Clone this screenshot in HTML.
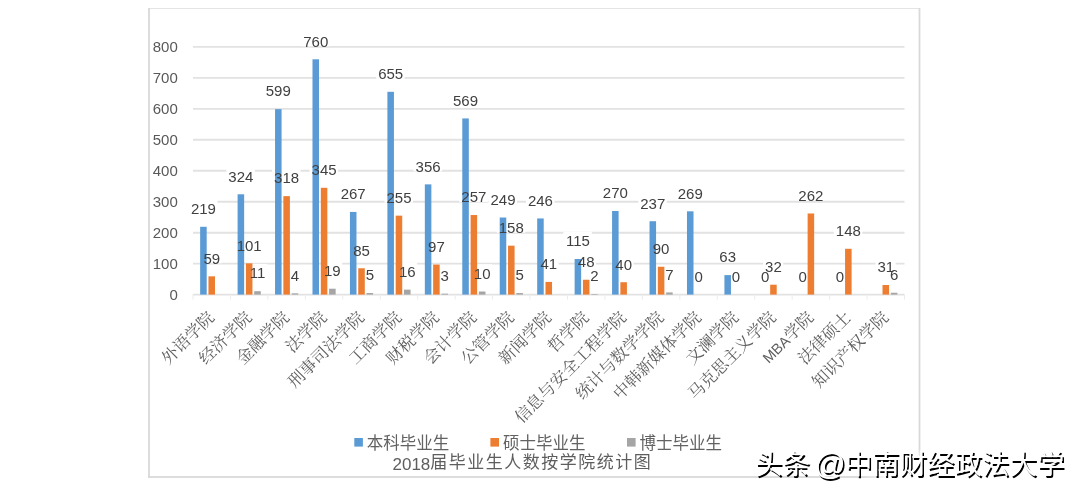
<!DOCTYPE html><html><head><meta charset="utf-8"><style>
html,body{margin:0;padding:0;background:#fff;}
body{width:1080px;height:495px;overflow:hidden;position:relative;}
svg{position:absolute;left:0;top:0;filter:blur(0.4px);}
.yl{font:15px "Liberation Sans",sans-serif;fill:#595959;}
.dl{font:15px "Liberation Sans",sans-serif;fill:#404040;}
.xl{font:400 16.6px "Liberation Sans","Noto Serif CJK SC",serif;fill:#5f5f5f;}
.lg{font:400 16.5px "Liberation Sans","Noto Sans CJK SC",sans-serif;fill:#626262;}
.tt{font:400 17px "Liberation Sans","Noto Sans CJK SC",sans-serif;fill:#5e5e5e;}
.wm{position:absolute;left:755px;top:441.9px;font:27.5px "Liberation Sans","Noto Sans CJK SC",sans-serif;color:#fff;white-space:nowrap;text-shadow:1.5px 1.5px 0.6px #000;filter:blur(0.25px);}
.at{font-family:"Liberation Sans",sans-serif;font-size:31px;vertical-align:-1px;margin-left:-3.5px;margin-right:-1px;}
</style></head><body>
<svg width="1080" height="495" viewBox="0 0 1080 495">
<defs><linearGradient id="gb" x1="148" y1="0" x2="890" y2="0" gradientUnits="userSpaceOnUse"><stop offset="0.965" stop-color="#d9d9d9"/><stop offset="1" stop-color="#d9d9d9" stop-opacity="0"/></linearGradient><linearGradient id="gr" x1="0" y1="8" x2="0" y2="462" gradientUnits="userSpaceOnUse"><stop offset="0.97" stop-color="#d9d9d9"/><stop offset="1" stop-color="#d9d9d9" stop-opacity="0"/></linearGradient></defs>
<line x1="148" y1="8.5" x2="920" y2="8.5" stroke="#e4e4e4" stroke-width="1.2"/>
<line x1="149" y1="8" x2="149" y2="478" stroke="#d9d9d9" stroke-width="1.8"/>
<rect x="918.6" y="8" width="1.8" height="454" fill="url(#gr)"/>
<rect x="148" y="476.1" width="742" height="1.8" fill="url(#gb)"/>
<line x1="193.0" y1="263.64" x2="904.5" y2="263.64" stroke="#e2e2e2" stroke-width="1.9"/>
<line x1="193.0" y1="232.68" x2="904.5" y2="232.68" stroke="#e2e2e2" stroke-width="1.9"/>
<line x1="193.0" y1="201.72" x2="904.5" y2="201.72" stroke="#e2e2e2" stroke-width="1.9"/>
<line x1="193.0" y1="170.76" x2="904.5" y2="170.76" stroke="#e2e2e2" stroke-width="1.9"/>
<line x1="193.0" y1="139.80" x2="904.5" y2="139.80" stroke="#e2e2e2" stroke-width="1.9"/>
<line x1="193.0" y1="108.84" x2="904.5" y2="108.84" stroke="#e2e2e2" stroke-width="1.9"/>
<line x1="193.0" y1="77.88" x2="904.5" y2="77.88" stroke="#e2e2e2" stroke-width="1.9"/>
<line x1="193.0" y1="46.92" x2="904.5" y2="46.92" stroke="#e2e2e2" stroke-width="1.9"/>
<line x1="193.0" y1="294.60" x2="904.5" y2="294.60" stroke="#e2e2e2" stroke-width="1.9"/>
<line x1="193.00" y1="294.60" x2="193.00" y2="299.60" stroke="#ebebeb" stroke-width="1"/>
<line x1="230.45" y1="294.60" x2="230.45" y2="299.60" stroke="#ebebeb" stroke-width="1"/>
<line x1="267.89" y1="294.60" x2="267.89" y2="299.60" stroke="#ebebeb" stroke-width="1"/>
<line x1="305.34" y1="294.60" x2="305.34" y2="299.60" stroke="#ebebeb" stroke-width="1"/>
<line x1="342.79" y1="294.60" x2="342.79" y2="299.60" stroke="#ebebeb" stroke-width="1"/>
<line x1="380.24" y1="294.60" x2="380.24" y2="299.60" stroke="#ebebeb" stroke-width="1"/>
<line x1="417.68" y1="294.60" x2="417.68" y2="299.60" stroke="#ebebeb" stroke-width="1"/>
<line x1="455.13" y1="294.60" x2="455.13" y2="299.60" stroke="#ebebeb" stroke-width="1"/>
<line x1="492.58" y1="294.60" x2="492.58" y2="299.60" stroke="#ebebeb" stroke-width="1"/>
<line x1="530.03" y1="294.60" x2="530.03" y2="299.60" stroke="#ebebeb" stroke-width="1"/>
<line x1="567.47" y1="294.60" x2="567.47" y2="299.60" stroke="#ebebeb" stroke-width="1"/>
<line x1="604.92" y1="294.60" x2="604.92" y2="299.60" stroke="#ebebeb" stroke-width="1"/>
<line x1="642.37" y1="294.60" x2="642.37" y2="299.60" stroke="#ebebeb" stroke-width="1"/>
<line x1="679.82" y1="294.60" x2="679.82" y2="299.60" stroke="#ebebeb" stroke-width="1"/>
<line x1="717.26" y1="294.60" x2="717.26" y2="299.60" stroke="#ebebeb" stroke-width="1"/>
<line x1="754.71" y1="294.60" x2="754.71" y2="299.60" stroke="#ebebeb" stroke-width="1"/>
<line x1="792.16" y1="294.60" x2="792.16" y2="299.60" stroke="#ebebeb" stroke-width="1"/>
<line x1="829.61" y1="294.60" x2="829.61" y2="299.60" stroke="#ebebeb" stroke-width="1"/>
<line x1="867.05" y1="294.60" x2="867.05" y2="299.60" stroke="#ebebeb" stroke-width="1"/>
<line x1="904.50" y1="294.60" x2="904.50" y2="299.60" stroke="#ebebeb" stroke-width="1"/>
<text class="yl" x="177.8" y="299.90" text-anchor="end">0</text>
<text class="yl" x="177.8" y="268.94" text-anchor="end">100</text>
<text class="yl" x="177.8" y="237.98" text-anchor="end">200</text>
<text class="yl" x="177.8" y="207.02" text-anchor="end">300</text>
<text class="yl" x="177.8" y="176.06" text-anchor="end">400</text>
<text class="yl" x="177.8" y="145.10" text-anchor="end">500</text>
<text class="yl" x="177.8" y="114.14" text-anchor="end">600</text>
<text class="yl" x="177.8" y="83.18" text-anchor="end">700</text>
<text class="yl" x="177.8" y="52.22" text-anchor="end">800</text>
<rect x="188.91" y="199.50" width="28.52" height="14.3" fill="#fff"/>
<rect x="201.39" y="249.03" width="20.18" height="14.3" fill="#fff"/>
<rect x="226.36" y="166.99" width="28.52" height="14.3" fill="#fff"/>
<rect x="234.67" y="236.03" width="28.52" height="14.3" fill="#fff"/>
<rect x="247.15" y="263.89" width="20.18" height="14.3" fill="#fff"/>
<rect x="263.80" y="81.85" width="28.52" height="14.3" fill="#fff"/>
<rect x="272.11" y="168.85" width="28.52" height="14.3" fill="#fff"/>
<rect x="288.76" y="266.06" width="11.84" height="14.3" fill="#fff"/>
<rect x="301.25" y="32.00" width="28.52" height="14.3" fill="#fff"/>
<rect x="309.56" y="160.49" width="28.52" height="14.3" fill="#fff"/>
<rect x="322.04" y="261.42" width="20.18" height="14.3" fill="#fff"/>
<rect x="338.70" y="184.64" width="28.52" height="14.3" fill="#fff"/>
<rect x="351.18" y="240.98" width="20.18" height="14.3" fill="#fff"/>
<rect x="363.66" y="265.75" width="11.84" height="14.3" fill="#fff"/>
<rect x="376.15" y="64.51" width="28.52" height="14.3" fill="#fff"/>
<rect x="384.46" y="188.35" width="28.52" height="14.3" fill="#fff"/>
<rect x="396.94" y="262.35" width="20.18" height="14.3" fill="#fff"/>
<rect x="413.59" y="157.08" width="28.52" height="14.3" fill="#fff"/>
<rect x="426.07" y="237.27" width="20.18" height="14.3" fill="#fff"/>
<rect x="438.55" y="266.37" width="11.84" height="14.3" fill="#fff"/>
<rect x="451.04" y="91.14" width="28.52" height="14.3" fill="#fff"/>
<rect x="459.35" y="187.73" width="28.52" height="14.3" fill="#fff"/>
<rect x="471.83" y="264.20" width="20.18" height="14.3" fill="#fff"/>
<rect x="488.49" y="190.21" width="28.52" height="14.3" fill="#fff"/>
<rect x="496.80" y="218.38" width="28.52" height="14.3" fill="#fff"/>
<rect x="513.45" y="265.75" width="11.84" height="14.3" fill="#fff"/>
<rect x="525.94" y="191.14" width="28.52" height="14.3" fill="#fff"/>
<rect x="538.42" y="254.61" width="20.18" height="14.3" fill="#fff"/>
<rect x="563.38" y="231.70" width="28.52" height="14.3" fill="#fff"/>
<rect x="575.86" y="252.44" width="20.18" height="14.3" fill="#fff"/>
<rect x="588.34" y="266.68" width="11.84" height="14.3" fill="#fff"/>
<rect x="600.83" y="183.71" width="28.52" height="14.3" fill="#fff"/>
<rect x="613.31" y="254.92" width="20.18" height="14.3" fill="#fff"/>
<rect x="638.28" y="193.92" width="28.52" height="14.3" fill="#fff"/>
<rect x="650.76" y="239.44" width="20.18" height="14.3" fill="#fff"/>
<rect x="663.24" y="265.13" width="11.84" height="14.3" fill="#fff"/>
<rect x="675.73" y="184.02" width="28.52" height="14.3" fill="#fff"/>
<rect x="692.38" y="267.30" width="11.84" height="14.3" fill="#fff"/>
<rect x="717.34" y="247.80" width="20.18" height="14.3" fill="#fff"/>
<rect x="729.82" y="267.30" width="11.84" height="14.3" fill="#fff"/>
<rect x="758.96" y="267.30" width="11.84" height="14.3" fill="#fff"/>
<rect x="763.10" y="257.39" width="20.18" height="14.3" fill="#fff"/>
<rect x="796.41" y="267.30" width="11.84" height="14.3" fill="#fff"/>
<rect x="796.38" y="186.18" width="28.52" height="14.3" fill="#fff"/>
<rect x="833.86" y="267.30" width="11.84" height="14.3" fill="#fff"/>
<rect x="833.83" y="221.48" width="28.52" height="14.3" fill="#fff"/>
<rect x="875.44" y="257.70" width="20.18" height="14.3" fill="#fff"/>
<rect x="887.92" y="265.44" width="11.84" height="14.3" fill="#fff"/>
<rect x="200.15" y="226.80" width="6.54" height="67.80" fill="#5b9bd5"/>
<rect x="208.46" y="276.33" width="6.54" height="18.27" fill="#ed7d31"/>
<rect x="237.60" y="194.29" width="6.54" height="100.31" fill="#5b9bd5"/>
<rect x="245.91" y="263.33" width="6.54" height="31.27" fill="#ed7d31"/>
<rect x="254.22" y="291.19" width="6.54" height="3.41" fill="#a5a5a5"/>
<rect x="275.04" y="109.15" width="6.54" height="185.45" fill="#5b9bd5"/>
<rect x="283.35" y="196.15" width="6.54" height="98.45" fill="#ed7d31"/>
<rect x="291.66" y="293.36" width="6.54" height="1.24" fill="#a5a5a5"/>
<rect x="312.49" y="59.30" width="6.54" height="235.30" fill="#5b9bd5"/>
<rect x="320.80" y="187.79" width="6.54" height="106.81" fill="#ed7d31"/>
<rect x="329.11" y="288.72" width="6.54" height="5.88" fill="#a5a5a5"/>
<rect x="349.94" y="211.94" width="6.54" height="82.66" fill="#5b9bd5"/>
<rect x="358.25" y="268.28" width="6.54" height="26.32" fill="#ed7d31"/>
<rect x="366.56" y="293.05" width="6.54" height="1.55" fill="#a5a5a5"/>
<rect x="387.39" y="91.81" width="6.54" height="202.79" fill="#5b9bd5"/>
<rect x="395.70" y="215.65" width="6.54" height="78.95" fill="#ed7d31"/>
<rect x="404.01" y="289.65" width="6.54" height="4.95" fill="#a5a5a5"/>
<rect x="424.83" y="184.38" width="6.54" height="110.22" fill="#5b9bd5"/>
<rect x="433.14" y="264.57" width="6.54" height="30.03" fill="#ed7d31"/>
<rect x="441.45" y="293.67" width="6.54" height="0.93" fill="#a5a5a5"/>
<rect x="462.28" y="118.44" width="6.54" height="176.16" fill="#5b9bd5"/>
<rect x="470.59" y="215.03" width="6.54" height="79.57" fill="#ed7d31"/>
<rect x="478.90" y="291.50" width="6.54" height="3.10" fill="#a5a5a5"/>
<rect x="499.73" y="217.51" width="6.54" height="77.09" fill="#5b9bd5"/>
<rect x="508.04" y="245.68" width="6.54" height="48.92" fill="#ed7d31"/>
<rect x="516.35" y="293.05" width="6.54" height="1.55" fill="#a5a5a5"/>
<rect x="537.18" y="218.44" width="6.54" height="76.16" fill="#5b9bd5"/>
<rect x="545.49" y="281.91" width="6.54" height="12.69" fill="#ed7d31"/>
<rect x="574.62" y="259.00" width="6.54" height="35.60" fill="#5b9bd5"/>
<rect x="582.93" y="279.74" width="6.54" height="14.86" fill="#ed7d31"/>
<rect x="591.24" y="293.98" width="6.54" height="0.62" fill="#a5a5a5"/>
<rect x="612.07" y="211.01" width="6.54" height="83.59" fill="#5b9bd5"/>
<rect x="620.38" y="282.22" width="6.54" height="12.38" fill="#ed7d31"/>
<rect x="649.52" y="221.22" width="6.54" height="73.38" fill="#5b9bd5"/>
<rect x="657.83" y="266.74" width="6.54" height="27.86" fill="#ed7d31"/>
<rect x="666.14" y="292.43" width="6.54" height="2.17" fill="#a5a5a5"/>
<rect x="686.97" y="211.32" width="6.54" height="83.28" fill="#5b9bd5"/>
<rect x="724.41" y="275.10" width="6.54" height="19.50" fill="#5b9bd5"/>
<rect x="770.17" y="284.69" width="6.54" height="9.91" fill="#ed7d31"/>
<rect x="807.62" y="213.48" width="6.54" height="81.12" fill="#ed7d31"/>
<rect x="845.07" y="248.78" width="6.54" height="45.82" fill="#ed7d31"/>
<rect x="882.51" y="285.00" width="6.54" height="9.60" fill="#ed7d31"/>
<rect x="890.82" y="292.74" width="6.54" height="1.86" fill="#a5a5a5"/>
<text class="dl" x="203.42" y="214.10" text-anchor="middle">219</text>
<text class="dl" x="211.73" y="263.63" text-anchor="middle">59</text>
<text class="dl" x="240.87" y="181.59" text-anchor="middle">324</text>
<text class="dl" x="249.18" y="250.63" text-anchor="middle">101</text>
<text class="dl" x="257.49" y="278.49" text-anchor="middle">11</text>
<text class="dl" x="278.31" y="96.45" text-anchor="middle">599</text>
<text class="dl" x="286.62" y="183.45" text-anchor="middle">318</text>
<text class="dl" x="294.93" y="280.66" text-anchor="middle">4</text>
<text class="dl" x="315.76" y="46.60" text-anchor="middle">760</text>
<text class="dl" x="324.07" y="175.09" text-anchor="middle">345</text>
<text class="dl" x="332.38" y="276.02" text-anchor="middle">19</text>
<text class="dl" x="353.21" y="199.24" text-anchor="middle">267</text>
<text class="dl" x="361.52" y="255.58" text-anchor="middle">85</text>
<text class="dl" x="369.83" y="280.35" text-anchor="middle">5</text>
<text class="dl" x="390.66" y="79.11" text-anchor="middle">655</text>
<text class="dl" x="398.97" y="202.95" text-anchor="middle">255</text>
<text class="dl" x="407.28" y="276.95" text-anchor="middle">16</text>
<text class="dl" x="428.10" y="171.68" text-anchor="middle">356</text>
<text class="dl" x="436.41" y="251.87" text-anchor="middle">97</text>
<text class="dl" x="444.72" y="280.97" text-anchor="middle">3</text>
<text class="dl" x="465.55" y="105.74" text-anchor="middle">569</text>
<text class="dl" x="473.86" y="202.33" text-anchor="middle">257</text>
<text class="dl" x="482.17" y="278.80" text-anchor="middle">10</text>
<text class="dl" x="503.00" y="204.81" text-anchor="middle">249</text>
<text class="dl" x="511.31" y="232.98" text-anchor="middle">158</text>
<text class="dl" x="519.62" y="280.35" text-anchor="middle">5</text>
<text class="dl" x="540.45" y="205.74" text-anchor="middle">246</text>
<text class="dl" x="548.76" y="269.21" text-anchor="middle">41</text>
<text class="dl" x="577.89" y="246.30" text-anchor="middle">115</text>
<text class="dl" x="586.20" y="267.04" text-anchor="middle">48</text>
<text class="dl" x="594.51" y="281.28" text-anchor="middle">2</text>
<text class="dl" x="615.34" y="198.31" text-anchor="middle">270</text>
<text class="dl" x="623.65" y="269.52" text-anchor="middle">40</text>
<text class="dl" x="652.79" y="208.52" text-anchor="middle">237</text>
<text class="dl" x="661.10" y="254.04" text-anchor="middle">90</text>
<text class="dl" x="669.41" y="279.73" text-anchor="middle">7</text>
<text class="dl" x="690.24" y="198.62" text-anchor="middle">269</text>
<text class="dl" x="698.55" y="281.90" text-anchor="middle">0</text>
<text class="dl" x="727.68" y="262.40" text-anchor="middle">63</text>
<text class="dl" x="735.99" y="281.90" text-anchor="middle">0</text>
<text class="dl" x="765.13" y="281.90" text-anchor="middle">0</text>
<text class="dl" x="773.44" y="271.99" text-anchor="middle">32</text>
<text class="dl" x="802.58" y="281.90" text-anchor="middle">0</text>
<text class="dl" x="810.89" y="200.78" text-anchor="middle">262</text>
<text class="dl" x="840.03" y="281.90" text-anchor="middle">0</text>
<text class="dl" x="848.34" y="236.08" text-anchor="middle">148</text>
<text class="dl" x="885.78" y="272.30" text-anchor="middle">31</text>
<text class="dl" x="894.09" y="280.04" text-anchor="middle">6</text>
<text class="xl" text-anchor="end" transform="translate(215.32,318.40) rotate(-45)">外语学院</text>
<text class="xl" text-anchor="end" transform="translate(252.77,318.40) rotate(-45)">经济学院</text>
<text class="xl" text-anchor="end" transform="translate(290.22,318.40) rotate(-45)">金融学院</text>
<text class="xl" text-anchor="end" transform="translate(327.67,318.40) rotate(-45)">法学院</text>
<text class="xl" text-anchor="end" transform="translate(365.11,318.40) rotate(-45)">刑事司法学院</text>
<text class="xl" text-anchor="end" transform="translate(402.56,318.40) rotate(-45)">工商学院</text>
<text class="xl" text-anchor="end" transform="translate(440.01,318.40) rotate(-45)">财税学院</text>
<text class="xl" text-anchor="end" transform="translate(477.46,318.40) rotate(-45)">会计学院</text>
<text class="xl" text-anchor="end" transform="translate(514.90,318.40) rotate(-45)">公管学院</text>
<text class="xl" text-anchor="end" transform="translate(552.35,318.40) rotate(-45)">新闻学院</text>
<text class="xl" text-anchor="end" transform="translate(589.80,318.40) rotate(-45)">哲学院</text>
<text class="xl" text-anchor="end" transform="translate(627.24,318.40) rotate(-45)">信息与安全工程学院</text>
<text class="xl" text-anchor="end" transform="translate(664.69,318.40) rotate(-45)">统计与数学学院</text>
<text class="xl" text-anchor="end" transform="translate(702.14,318.40) rotate(-45)">中韩新媒体学院</text>
<text class="xl" text-anchor="end" transform="translate(739.59,318.40) rotate(-45)">文澜学院</text>
<text class="xl" text-anchor="end" transform="translate(777.03,318.40) rotate(-45)">马克思主义学院</text>
<text class="xl" text-anchor="end" transform="translate(814.48,318.40) rotate(-45)"><tspan style="font-size:14.5px;font-weight:400">MBA</tspan>学院</text>
<text class="xl" text-anchor="end" transform="translate(851.93,318.40) rotate(-45)">法律硕士</text>
<text class="xl" text-anchor="end" transform="translate(889.38,318.40) rotate(-45)">知识产权学院</text>
<rect x="354.3" y="438" width="8.6" height="8.6" fill="#5b9bd5"/>
<text class="lg" x="366.8" y="448.5">本科毕业生</text>
<rect x="490.4" y="438" width="8.6" height="8.6" fill="#ed7d31"/>
<text class="lg" x="502.9" y="448.5">硕士毕业生</text>
<rect x="627.0" y="438" width="8.6" height="8.6" fill="#a5a5a5"/>
<text class="lg" x="639.5" y="448.5">博士毕业生</text>
<text class="tt" x="392.5" y="469.6"><tspan style="font-weight:400">2018</tspan><tspan letter-spacing="1.5" y="468.2">届毕业生人数按学院统计图</tspan></text>
</svg>
<div class="wm">头条 <span class="at">@</span>中南财经政法大学</div>
</body></html>
